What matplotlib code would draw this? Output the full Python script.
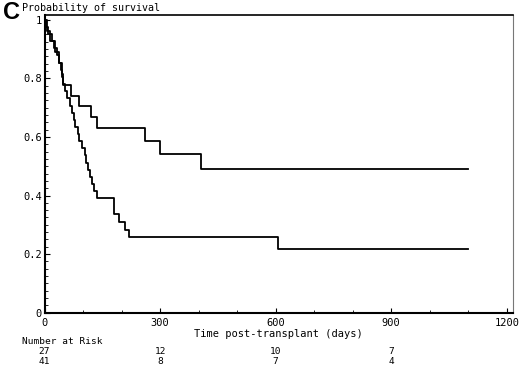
import matplotlib
matplotlib.use("Agg")
import matplotlib.pyplot as plt
from matplotlib.ticker import MultipleLocator, FixedLocator
import matplotlib.transforms as mtransforms

# Kaplan-Meier steps (day of drop, survival after drop)
upper_days = [0, 6, 14, 27, 38, 46, 49, 69, 89, 120, 137, 261, 299, 405, 1100]
upper_surv = [1.0, 0.963, 0.926, 0.889, 0.852, 0.815, 0.778, 0.741, 0.704, 0.667,
              0.630, 0.587, 0.543, 0.490, 0.490]

lower_days = [0, 5, 10, 20, 25, 32, 38, 43, 46, 49, 53, 58, 66, 71, 76, 80, 86, 89,
              98, 104, 108, 113, 118, 123, 129, 136, 181, 193, 208, 220, 607, 1100]
lower_surv = [1.0, 0.976, 0.951, 0.927, 0.902, 0.878, 0.854, 0.829, 0.805, 0.780,
              0.756, 0.732, 0.707, 0.683, 0.659, 0.634, 0.610, 0.585, 0.561, 0.537,
              0.512, 0.488, 0.463, 0.439, 0.415, 0.390, 0.337, 0.308, 0.282, 0.257,
              0.217, 0.217]

risk_days = [0, 300, 600, 900]
risk_upper = ["27", "12", "10", "7"]
risk_lower = ["41", "8", "7", "4"]

xticks = [0, 300, 600, 900, 1200]
yticks = [0, 0.2, 0.4, 0.6, 0.8, 1.0]
ytick_labels = ["0", "0.2", "0.4", "0.6", "0.8", "1"]

mono = "DejaVu Sans Mono"

fig = plt.figure(figsize=(5.2, 3.67), dpi=100)
ax = fig.add_axes([0.0856, 0.148, 0.9, 0.811])

ax.step(upper_days, upper_surv, where="post", color="black", lw=1.3)
ax.step(lower_days, lower_surv, where="post", color="black", lw=1.3)

ax.set_xlim(0, 1215)
ax.set_ylim(0, 1.016)

ax.xaxis.set_major_locator(FixedLocator(xticks))
ax.xaxis.set_minor_locator(MultipleLocator(100))
ax.yaxis.set_major_locator(FixedLocator(yticks))
ax.yaxis.set_minor_locator(MultipleLocator(0.025))
ax.set_yticklabels(ytick_labels, fontfamily=mono, fontsize=7.5)
ax.set_xticklabels([str(t) for t in xticks], fontfamily=mono, fontsize=7.5)

ax.tick_params(which="both", direction="in", color="black")
ax.tick_params(which="major", length=3.5, width=0.8)
ax.tick_params(axis="y", which="major", pad=2)
ax.tick_params(axis="x", which="major", pad=3.5)
ax.tick_params(which="minor", length=2, width=0.6)

for side in ["left", "bottom"]:
    ax.spines[side].set_linewidth(1.5)
ax.spines["top"].set_linewidth(1.2)
ax.spines["right"].set_linewidth(0.8)
ax.spines["right"].set_color("#777777")

ax.set_xlabel("Time post-transplant (days)", fontfamily=mono, fontsize=7.5, labelpad=1)

fig.text(0.005, 0.998, "C", fontfamily="Liberation Sans", fontweight="bold",
         fontsize=17, va="top", ha="left")
fig.text(0.043, 0.978, "Probability of survival", fontfamily=mono, fontsize=7.2,
         va="center", ha="left")

# numbers at risk under the axis, lined up with the x ticks
trans = mtransforms.blended_transform_factory(ax.transData, fig.transFigure)
fig.text(0.043, 0.070, "Number at Risk", fontfamily=mono, fontsize=6.8,
         va="center", ha="left")
for d, a, b in zip(risk_days, risk_upper, risk_lower):
    ax.text(d, 0.0425, a, transform=trans, fontfamily=mono, fontsize=6.8,
            ha="center", va="center", clip_on=False)
    ax.text(d, 0.015, b, transform=trans, fontfamily=mono, fontsize=6.8,
            ha="center", va="center", clip_on=False)

fig.savefig("out.png", dpi=100, facecolor="white")
